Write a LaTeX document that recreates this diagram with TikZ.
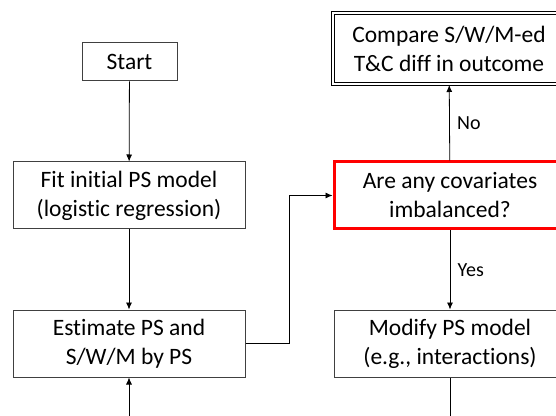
\documentclass[tikz,border=0pt]{standalone}
\usepackage{fontspec}
\setmainfont{Carlito}[Ligatures={NoCommon}]
\usetikzlibrary{arrows.meta}
\tikzset{
  box/.style={draw=black!75, line width=1pt, fill=white, minimum width=232pt, minimum height=67pt,
    align=center, inner sep=0pt, font=\fontsize{23.5}{29}\selectfont},
  redbox/.style={box, draw=red, line width=3pt},
  endbox/.style={box, draw=black, double, double distance=2pt, line width=1pt, minimum width=232pt, minimum height=71pt},
  arr/.style={-{Latex[length=7pt,width=6pt]}, line width=0.8pt},
  lbl/.style={font=\fontsize{20}{24}\selectfont, anchor=west}
}
\begin{document}
\begin{tikzpicture}[x=1pt,y=1pt]
\clip (0,0) rectangle (556,415);
\fill[white] (0,0) rectangle (556,415);

\node[box, minimum width=95pt, minimum height=38pt] (start) at (129.5,353) {Start};
\node[box] (fit) at (129,219.5) {Fit initial PS model\\(logistic regression)};
\node[box] (est) at (129,71.5) {Estimate PS and\\S/W/M by PS};
\node[redbox] (imb) at (450,219.5) {Are any covariates\\imbalanced?};
\node[box] (mod) at (450,71.5) {Modify PS model\\(e.g., interactions)};
\node[endbox] (cmp) at (449,366) {Compare S/W/M-ed\\T\&C diff in outcome};

\coordinate (loopin) at (129,-10);
\coordinate (loopout) at (450,-10);

\draw[arr] (start) -- (fit);
\draw[arr] (fit) -- (est);
\draw[arr] (est.east) -- ++(44,0) |- (imb.west);
\draw[arr] (imb) -- node[lbl, pos=0.5, xshift=4pt] {No} (cmp);
\draw[arr] (imb) -- node[lbl, pos=0.5, xshift=4pt] {Yes} (mod);
\draw[line width=0.8pt] (mod) -- (loopout);
\draw[arr] (loopin) -- (est);
\end{tikzpicture}
\end{document}
